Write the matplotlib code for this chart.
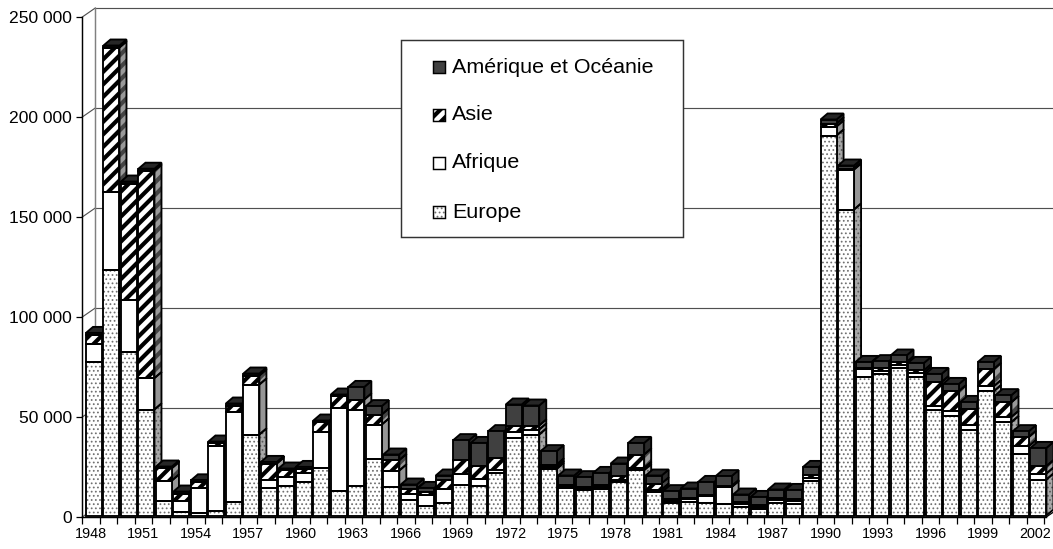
import numpy as np
import matplotlib.pyplot as plt
from matplotlib.patches import Polygon, Rectangle
from matplotlib.ticker import FixedLocator, FuncFormatter

plt.rcParams['font.family'] = ['Liberation Sans', 'DejaVu Sans']

years = list(range(1948, 2003))

europe = [77000, 123000, 82000, 53000, 7400, 2000, 1500, 2500, 7000, 40500,
          13800, 15000, 16700, 23800, 12200, 14700, 28300, 14200, 8000, 4700,
          6300, 15500, 14700, 21300, 38800, 40500, 23300, 13800, 12700, 13300,
          16700, 22700, 11700, 6300, 6700, 6300, 6000, 4200, 3500, 6300,
          6000, 17200, 190000, 153000, 69300, 70800, 73800, 69300, 52700, 50000,
          42700, 62200, 46700, 31000, 18000]
afrique = [9000, 39000, 26000, 15700, 10100, 5500, 12500, 32500, 45000, 25000,
           4200, 4200, 4600, 17900, 41600, 38300, 17200, 8300, 2800, 5800,
           7000, 5500, 3600, 1700, 2900, 2500, 1000, 700, 500, 1000,
           1300, 1100, 1300, 1000, 1500, 3400, 8200, 1800, 1000, 1400,
           1400, 1600, 4500, 20000, 4000, 1500, 1300, 2000, 2000, 2500,
           2800, 2500, 2600, 3700, 3000]
asie = [4500, 72000, 58000, 103700, 6200, 3200, 3000, 1200, 3000, 4500,
        8000, 3500, 2000, 5000, 5900, 5000, 5000, 5200, 2500, 1200,
        4700, 7000, 6700, 5800, 3300, 2000, 1200, 800, 1000, 1000,
        2000, 6700, 3000, 800, 500, 500, 500, 600, 700, 1100,
        1100, 1400, 1500, 500, 500, 1500, 1500, 1300, 12000, 9700,
        7800, 8600, 7400, 4600, 3700]
amerique = [800, 1000, 1000, 1000, 800, 1300, 600, 800, 1000, 1000,
            800, 800, 1000, 800, 800, 6300, 4200, 2800, 2200, 2100,
            2000, 9700, 11300, 13400, 10500, 10000, 6700, 4700, 5000, 6000,
            6000, 5800, 4000, 4100, 4800, 6600, 5000, 3900, 4100, 4200,
            4300, 4100, 2000, 1500, 3000, 3400, 3400, 3700, 4100, 3600,
            3500, 3500, 3500, 2900, 9100]

series = ['Europe', 'Afrique', 'Asie', 'Amérique et Océanie']
yticks = [0, 50000, 100000, 150000, 200000, 250000]

DPI = 150
W, H = 1053, 549
fig = plt.figure(figsize=(W / DPI, H / DPI), dpi=DPI)

# geometry of the front plane, in pixels
step = 17.49          # px per year
cx0 = 94              # centre of first bar
y0 = 517              # value 0
ppv = 100 / 50000     # px per unit

x_left = -0.67
x_right = (W - cx0) / step
left_px = cx0 + x_left * step
ax = fig.add_axes([left_px / W, (H - y0) / H, (W - left_px) / W, 250000 * ppv / H])
ax.set_xlim(x_left, x_right)
ax.set_ylim(0, 250000)

lw = 0.9
wdx, wdy = 13 / step, 9 / ppv      # wall depth
bdx, bdy = 7 / step, 6 / ppv       # bar depth
base = 1.5 / ppv                   # bars sit slightly behind the front edge
width = 16 / step
floor_end = 54.45

# back wall, gridlines, left wall
xb = x_left + wdx
for v in yticks:
    ax.plot([xb, x_right], [v + wdy, v + wdy], color='#505050', lw=0.55, zorder=0.5, clip_on=False)
    ax.plot([x_left, xb], [v, v + wdy], color='#505050', lw=0.55, zorder=0.5, clip_on=False)
ax.plot([xb, xb], [wdy, 250000 + wdy], color='#808080', lw=0.7, zorder=0.5, clip_on=False)
ax.plot([floor_end, floor_end + wdx], [0, wdy], color='black', lw=0.6, zorder=0.5, clip_on=False)

# bars
x = np.arange(len(years))
data = [europe, afrique, asie, amerique]
styles = [
    dict(face='white', hatch='......', hcolor='#707070', side='#a8a8a8', shcolor='#5a5a5a', hlw=0.5),
    dict(face='white', hatch=None, hcolor='white', side='#969696', shcolor='#969696', hlw=0.5),
    dict(face='white', hatch='////', hcolor='black', side='#9a9a9a', shcolor='#444444', hlw=2.0),
    dict(face='#404040', hatch=None, hcolor='#404040', side='#2a2a2a', shcolor='#2a2a2a', hlw=0.5),
]
bottom = np.full(len(years), base)
for vals, st in zip(data, styles):
    vals = np.array(vals, dtype=float)
    with plt.rc_context({'hatch.linewidth': st['hlw']}):
        ax.bar(x, vals, width, bottom=bottom, color=st['face'], edgecolor=st['hcolor'],
               linewidth=0, hatch=st['hatch'], zorder=3)
        for xi, b, v in zip(x, bottom, vals):
            xr = xi + width / 2
            pts = [(xr, b), (xr + bdx, b + bdy), (xr + bdx, b + v + bdy), (xr, b + v)]
            ax.add_patch(Polygon(pts, closed=True, facecolor=st['side'], edgecolor=st['shcolor'],
                                 linewidth=0, hatch=st['hatch'], zorder=2))
            ax.add_patch(Polygon(pts, closed=True, fill=False, edgecolor='black', linewidth=lw, zorder=2.1))
    ax.bar(x, vals, width, bottom=bottom, fill=False, edgecolor='black', linewidth=lw, zorder=3.1)
    bottom = bottom + vals

# top faces
for xi, t in zip(x, bottom):
    xl, xr = xi - width / 2, xi + width / 2
    pts = [(xl, t), (xl + bdx, t + bdy), (xr + bdx, t + bdy), (xr, t)]
    ax.add_patch(Polygon(pts, closed=True, facecolor='#262626', edgecolor='black',
                         linewidth=lw, zorder=2.2, clip_on=False))

# axes
for s in ['top', 'right']:
    ax.spines[s].set_visible(False)
ax.spines['left'].set_linewidth(0.7)
ax.spines['bottom'].set_linewidth(0.7)
ax.spines['bottom'].set_bounds(x_left, floor_end)
ax.set_facecolor('none')

ax.yaxis.set_major_locator(FixedLocator(yticks))
ax.yaxis.set_major_formatter(FuncFormatter(lambda v, p: f"{int(v):,}".replace(',', ' ')))
ax.tick_params(axis='y', length=3, width=0.6, pad=2, labelsize=8.4)

lab_idx = [i for i, y in enumerate(years) if (y - 1948) % 3 == 0]
ax.set_xticks([i - 0.17 for i in lab_idx])
ax.set_xticklabels([str(years[i]) for i in lab_idx])
ax.set_xticks([i - 0.67 for i in range(len(years) + 1)], minor=True)
ax.tick_params(axis='x', which='major', length=0, pad=5, labelsize=6.9)
ax.tick_params(axis='x', which='minor', length=3.3, width=0.6)

# legend box
def fx(px):
    return px / W

def fy(py):
    return 1 - py / H

fig.add_artist(Rectangle((fx(401), fy(237)), fx(683) - fx(401), fy(40) - fy(237),
                         transform=fig.transFigure, facecolor='white', edgecolor='#333333',
                         linewidth=0.7, zorder=10))
rows = [67, 115, 163, 212]
order = [3, 2, 1, 0]
for ry, si in zip(rows, order):
    st = styles[si]
    rect = (fx(433), fy(ry + 6)), fx(445) - fx(433), fy(ry - 6) - fy(ry + 6)
    with plt.rc_context({'hatch.linewidth': st['hlw']}):
        fig.add_artist(Rectangle(*rect, transform=fig.transFigure, facecolor=st['face'],
                                 edgecolor=st['hcolor'], linewidth=0, hatch=st['hatch'], zorder=11))
    fig.add_artist(Rectangle(*rect, transform=fig.transFigure, fill=False,
                             edgecolor='black', linewidth=0.7, zorder=11.5))
    fig.text(fx(452), fy(ry), series[si], fontsize=10.3, va='center', ha='left', zorder=12)

fig.savefig('out.png', dpi=DPI)
